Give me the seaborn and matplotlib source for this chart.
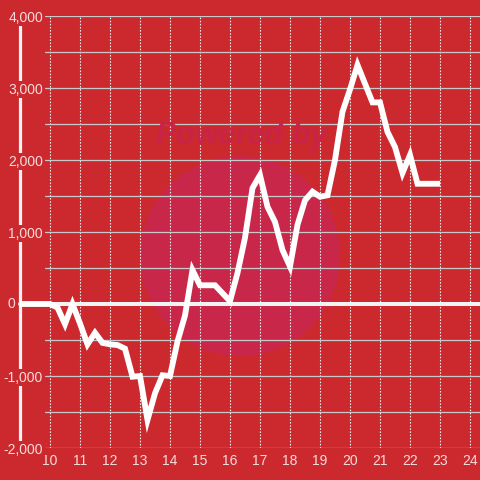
import matplotlib
matplotlib.use("Agg")
import matplotlib.pyplot as plt
import matplotlib.ticker as mticker
from matplotlib.patches import Circle
import seaborn as sns
import pandas as pd

# ---- data ----
times = ["9:00", "9:15", "9:30", "9:45",
         "10:00", "10:15", "10:30", "10:45",
         "11:00", "11:15", "11:30", "11:45",
         "12:00", "12:15", "12:30", "12:45",
         "13:00", "13:15", "13:30", "13:45",
         "14:00", "14:15", "14:30", "14:45",
         "15:00", "15:15", "15:30", "15:45",
         "16:00", "16:15", "16:30", "16:45",
         "17:00", "17:15", "17:30", "17:45",
         "18:00", "18:15", "18:30", "18:45",
         "19:00", "19:15", "19:30", "19:45",
         "20:00", "20:15", "20:30", "20:45",
         "21:00", "21:15", "21:30", "21:45",
         "22:00", "22:15", "22:30", "22:45",
         "23:00"]
values = [0, 0, 0, 0,
          0, -50, -280, 0,
          -270, -560, -400, -540,
          -560, -570, -620, -1010,
          -1000, -1610, -1240, -990,
          -1000, -520, -160, 470,
          260, 260, 260, 150,
          40, 430, 920, 1610,
          1790, 1350, 1140, 750,
          520, 1100, 1440, 1560,
          1490, 1510, 2000, 2670,
          2980, 3320, 3060, 2800,
          2800, 2390, 2180, 1820,
          2070, 1670, 1670, 1670,
          1670]
x_ticks = [10, 11, 12, 13, 14, 15, 16, 17, 18, 19, 20, 21, 22, 23, 24]
y_ticks = [-2000, -1000, 0, 1000, 2000, 3000, 4000]
y_minor = [-1500, -500, 500, 1500, 2500, 3500]

hours = [int(t.split(":")[0]) + int(t.split(":")[1]) / 60 for t in times]
df = pd.DataFrame({"hour": hours, "value": values})

# ---- style ----
BG = "#cc292e"
TXT = "#f5dcdc"
sns.set_style("white", {"axes.facecolor": BG, "figure.facecolor": BG})
plt.rcParams["font.family"] = ["Liberation Sans", "DejaVu Sans"]

fig = plt.figure(figsize=(4.8, 4.8), dpi=100)
L, R, T, B = 45 / 480, 1.0, 1 - 16 / 480, 1 - 448 / 480
ax = fig.add_axes([L, B, R - L, T - B])
ax.set_facecolor(BG)

# watermark
ax.add_patch(Circle((240 / 480, 1 - 256 / 480), 100 / 480, transform=fig.transFigure,
                    facecolor="#c9274a", edgecolor="none", zorder=0.5))
fig.text(242 / 480, 1 - 136 / 480, "Powered by", ha="center", va="center",
         fontsize=22, fontweight="bold", fontstyle="italic", color="#c72447", zorder=0.6)

sns.lineplot(data=df, x="hour", y="value", ax=ax, color="white", linewidth=4.2,
             zorder=5, estimator=None, sort=False)
for ln in ax.get_lines():
    ln.set_clip_on(False)
    ln.set_solid_joinstyle("miter")
    ln.set_solid_capstyle("butt")

ax.axhline(0, xmin=-25 / 435, xmax=1, color="#f3f3f3", linewidth=2.9,
           clip_on=False, zorder=4)

ax.set_xlim(9 + 25 / 30, 24 + 1 / 3)
ax.set_ylim(-2000, 4000)

ax.xaxis.set_major_locator(mticker.FixedLocator(x_ticks))
ax.yaxis.set_major_locator(mticker.FixedLocator(y_ticks))
ax.yaxis.set_minor_locator(mticker.FixedLocator(y_minor))
ax.yaxis.set_major_formatter(
    mticker.FuncFormatter(lambda v, p: "" if v == 0 else f"{v:,.0f}"))

ax.grid(axis="x", which="major", color="#f0f0f0", linewidth=0.8, linestyle=(0, (1.4, 1.4)))
ax.grid(axis="y", which="both", color="#c9c9c9", linewidth=0.9, linestyle="-")

for s in ["top", "right", "bottom"]:
    ax.spines[s].set_visible(False)
ax.spines["left"].set_position(("axes", -25 / 435))
ax.spines["left"].set_color("#f3f3f3")
ax.spines["left"].set_linewidth(2.3)

ax.set_axisbelow(False)
ax.tick_params(axis="x", length=0, pad=4.5, labelsize=10, labelcolor=TXT)
ax.tick_params(axis="y", which="both", length=0, labelsize=10, labelcolor=TXT,
               pad=-23 * 0.72)
ax.set_xlabel("")
ax.set_ylabel("")

for t in ax.get_yticklabels():
    t.set_bbox(dict(facecolor=BG, edgecolor="none", pad=1.2))

# the "0" label sits left of the y-axis line in the reference
ax.text(15 / 480, 0, "0", transform=ax.get_yaxis_transform().__class__(fig.transFigure, ax.transData),
        ha="right", va="center", fontsize=10, color=TXT)

fig.savefig("out.png", dpi=100, facecolor=BG)
